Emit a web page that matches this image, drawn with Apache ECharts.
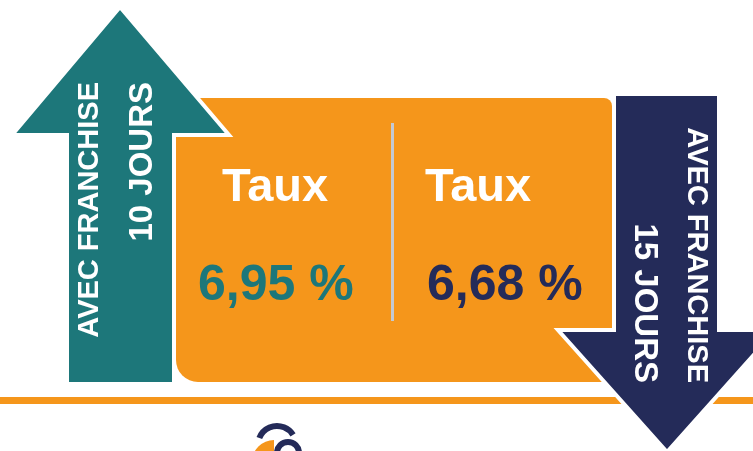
<!DOCTYPE html>
<html>
<head>
<meta charset="utf-8">
<script src="https://cdn.jsdelivr.net/npm/echarts@6/dist/echarts.min.js"></script>
<style>
  html, body { margin: 0; padding: 0; background: #fff; }
  #franchiseChart { width: 753px; height: 451px; }
</style>
</head>
<body>
<div id="franchiseChart"></div>
<script>
// valeurs
var rateTitles = ['Taux', 'Taux']
var rates = [6.95, 6.68]
var franchiseLabels = ['AVEC FRANCHISE', 'AVEC FRANCHISE']
var franchiseDays = [10, 15]

var teal = '#1d777a'
var navy = '#242b59'
var orange = '#f5961b'
var font = '"Liberation Sans", Arial, sans-serif'

function fmtRate(v) {
  return v.toFixed(2).replace('.', ',') + ' %'
}

var chartDom = document.getElementById('franchiseChart')
var myChart = echarts.init(chartDom)

var elements = [
  // ligne orange du bas
  {
    type: 'rect',
    shape: { x: 0, y: 397, width: 753, height: 7 },
    style: { fill: orange }
  },
  // cadre orange
  {
    type: 'rect',
    shape: { x: 176, y: 98, width: 436, height: 284, r: [0, 8, 0, 22] },
    style: { fill: orange }
  },
  // séparateur
  {
    type: 'rect',
    shape: { x: 391, y: 123, width: 3, height: 198 },
    style: { fill: '#c4c9d2' }
  },
  // flèche montante
  {
    type: 'polygon',
    shape: {
      points: [[120, 7], [229, 135], [174, 135], [174, 384], [67, 384], [67, 135], [12, 135]]
    },
    style: { fill: teal, stroke: '#fff', lineWidth: 4 }
  },
  // flèche descendante
  {
    type: 'polygon',
    shape: {
      points: [[614, 94], [719, 94], [719, 330], [776, 330], [667, 452], [558, 330], [614, 330]]
    },
    style: { fill: navy, stroke: '#fff', lineWidth: 4 }
  }
]

// textes du cadre
var colX = [222, 425]
var rateColors = [teal, navy]
rates.forEach(function(v, i) {
  elements.push({
    type: 'text',
    x: colX[i],
    y: 188,
    style: {
      text: rateTitles[i],
      fill: '#fff',
      font: 'bold 47px ' + font,
      align: 'left',
      verticalAlign: 'middle'
    }
  })
  elements.push({
    type: 'text',
    x: colX[i] - 24 + i * 26,
    y: 286,
    style: {
      text: fmtRate(v),
      fill: rateColors[i],
      font: 'bold 50px ' + font,
      align: 'left',
      verticalAlign: 'middle'
    }
  })
})

// textes verticaux dans les flèches
var arrowText = [
  { x1: 90, x2: 143, y: 82, rot: Math.PI / 2 },
  { x1: 696, x2: 644, y: 383, rot: -Math.PI / 2 }
]
franchiseDays.forEach(function(d, i) {
  var a = arrowText[i]
  elements.push({
    type: 'text',
    x: a.x1,
    y: a.y,
    rotation: a.rot,
    style: {
      text: franchiseLabels[i],
      fill: '#fff',
      font: 'bold 29px ' + font,
      align: 'right',
      verticalAlign: 'middle'
    }
  })
  elements.push({
    type: 'text',
    x: a.x2,
    y: a.y,
    rotation: a.rot,
    style: {
      text: d + ' JOURS',
      fill: '#fff',
      font: 'bold 33px ' + font,
      align: 'right',
      verticalAlign: 'middle'
    }
  })
})

// bout de logo coupé en bas
elements.push({
  type: 'sector',
  shape: { cx: 274, cy: 462, r: 22, r0: 0, startAngle: Math.PI, endAngle: Math.PI * 1.5 },
  style: { fill: orange }
})
elements.push({
  type: 'arc',
  shape: { cx: 277, cy: 445, r: 19, startAngle: Math.PI * 1.12, endAngle: Math.PI * 1.82 },
  style: { stroke: navy, lineWidth: 6, fill: null }
})
elements.push({
  type: 'arc',
  shape: { cx: 288, cy: 453, r: 11, startAngle: Math.PI * 1.0, endAngle: Math.PI * 2.1 },
  style: { stroke: navy, lineWidth: 6, fill: null }
})

var option = {
  animation: false,
  graphic: { elements: elements }
}
option && myChart.setOption(option)
</script>
</body>
</html>
